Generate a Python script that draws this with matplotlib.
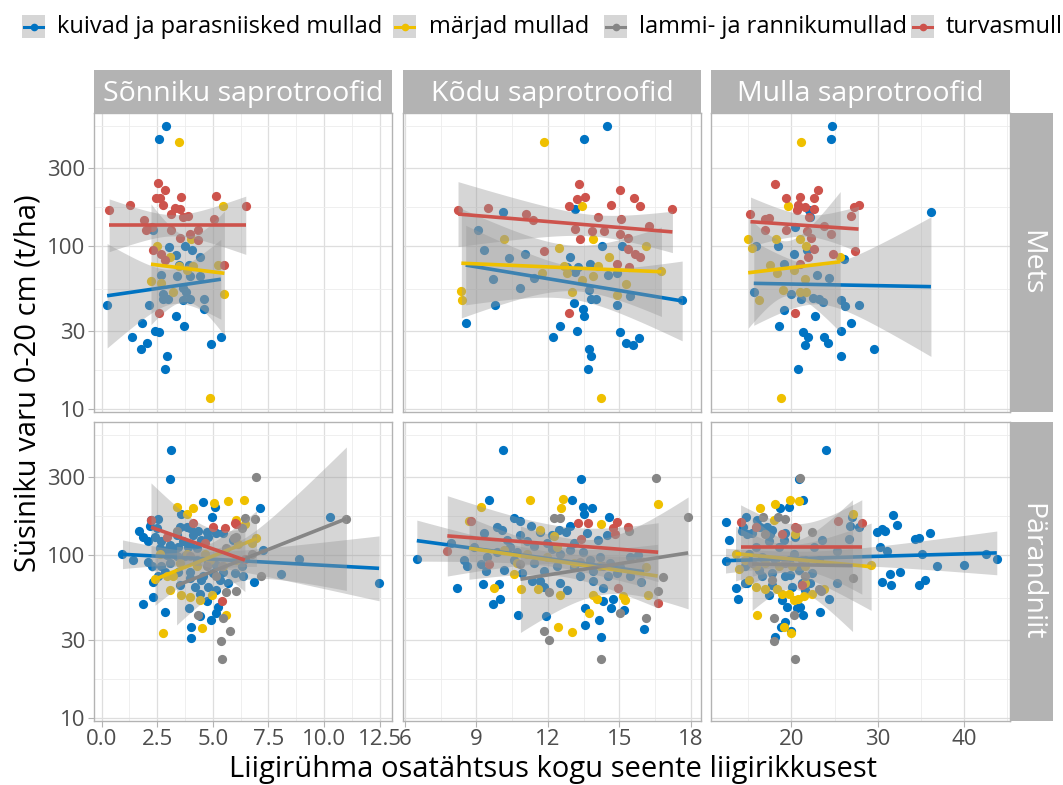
import numpy as np
import matplotlib.pyplot as plt
from matplotlib.lines import Line2D
from matplotlib.patches import Rectangle

plt.rcParams['font.family'] = ['Open Sans', 'DejaVu Sans']

W, H = 1063, 785

groups = ["kuivad ja parasniisked mullad", "märjad mullad", "lammi- ja rannikumullad", "turvasmullad"]
keys = ["kuiv", "marg", "lammi", "turv"]
colors = ["#0073C2", "#EFC000", "#868686", "#CD534C"]
columns = ["Sõnniku saprotroofid", "Kõdu saprotroofid", "Mulla saprotroofid"]
rows = ["Mets", "Pärandniit"]

# --- mets, sõnniku saprotroofid ---
mets_sonnik_kuiv = [(2.89, 545), (2.57, 451), (3.02, 99), (3.74, 100), (4.07, 94.5), (4.42, 85), (3.34, 88),
                    (2.32, 125), (0.25, 43.5), (2.14, 43.5), (2.77, 47), (2.99, 47.5), (3.67, 46.5), (3.97, 47),
                    (4.60, 47.5), (4.60, 41), (3.34, 37), (3.71, 32.5), (1.83, 33.5), (2.40, 30), (2.57, 29.5),
                    (1.35, 27.8), (2.02, 25.5), (1.77, 23.4), (2.92, 21.2), (2.83, 17.5), (4.90, 24.9),
                    (5.36, 27.5), (3.49, 76), (3.92, 76), (2.69, 66), (3.37, 65), (3.97, 65), (4.42, 65),
                    (2.77, 51), (3.79, 52.5), (3.64, 55)]
mets_sonnik_marg = [(3.49, 432), (5.46, 177), (4.04, 110), (2.47, 100), (3.07, 86), (3.49, 75), (5.24, 76),
                    (2.22, 61), (2.69, 59), (3.19, 52.5), (5.52, 51), (4.87, 11.6), (3.82, 71), (4.12, 75)]
mets_sonnik_turv = [(2.54, 242), (2.84, 220), (2.43, 197), (2.62, 197), (2.74, 178), (3.55, 201), (3.29, 170),
                    (3.52, 168), (3.13, 157), (3.67, 151), (3.89, 153), (5.13, 203), (6.48, 176), (0.34, 166),
                    (1.27, 178), (1.90, 144), (1.98, 126), (2.25, 131), (3.14, 125), (4.34, 125), (3.97, 119),
                    (3.52, 112), (4.34, 109), (2.29, 94.5), (2.66, 89), (2.84, 82), (5.49, 76), (2.57, 38.7),
                    (5.04, 146)]
mets_sonnik_fit = {"kuiv": (49.5, 62.5), "marg": (77.3, 68), "turv": (134, 134)}

# --- mets, kõdu saprotroofid ---
mets_kodu_kuiv = [(14.50, 545), (13.52, 451), (13.14, 168), (10.12, 162), (9.06, 125), (9.31, 94.5), (10.36, 84),
                  (11.06, 89), (12.91, 86), (14.26, 100), (15.12, 100), (9.68, 63), (10.85, 55), (11.43, 64),
                  (12.80, 74), (13.28, 74), (13.77, 78), (13.14, 69), (13.74, 54), (14.54, 66), (14.91, 68),
                  (15.44, 49.5), (9.80, 43.5), (8.55, 33.5), (13.08, 45), (13.49, 41), (13.52, 37),
                  (12.52, 32.5), (12.20, 27.8), (13.21, 30), (15.03, 29.7), (15.30, 25.5), (15.58, 24.8),
                  (15.83, 27.3), (13.73, 23.4), (13.81, 21.2), (13.67, 17.5), (17.64, 46.5), (14.89, 43.3),
                  (14.02, 47.5), (13.80, 47.5)]
mets_kodu_marg = [(11.85, 432), (13.42, 177), (10.15, 110), (12.45, 97.5), (13.88, 110), (16.14, 100.5),
                  (14.57, 86), (16.77, 70.5), (14.12, 75), (12.66, 75), (11.75, 68), (12.82, 68), (13.42, 62),
                  (13.91, 65), (15.28, 58.5), (13.00, 52.5), (8.37, 53), (8.38, 46.5), (14.89, 50), (14.22, 11.6)]
mets_kodu_turv = [(13.31, 240), (13.24, 194), (13.56, 201), (12.87, 177), (15.03, 220), (15.62, 196),
                  (15.86, 176), (14.64, 178), (17.23, 168), (8.23, 166), (9.50, 170), (11.08, 157), (11.38, 144),
                  (14.12, 150), (15.07, 147), (13.14, 127), (13.87, 124), (14.36, 124), (15.03, 118),
                  (15.37, 112), (16.24, 132), (13.33, 111), (11.82, 93.5), (15.37, 96), (15.65, 89),
                  (15.86, 85), (14.89, 77), (15.42, 74), (12.87, 38.7)]
mets_kodu_fit = {"kuiv": (76.4, 46), "marg": (78.4, 69.5), "turv": (157, 122)}

# --- mets, mulla saprotroofid ---
mets_mulla_kuiv = [(24.69, 545), (24.58, 451), (36.15, 161), (15.85, 100.5), (18.46, 100), (20.27, 89),
                   (21.81, 94.5), (26.04, 83), (20.46, 130), (19.12, 78), (22.96, 66), (24.38, 64), (25.73, 46.5),
                   (26.15, 43), (27.85, 43.5), (22.46, 48), (23.23, 47), (23.62, 45.5), (21.15, 47.5),
                   (20.0, 50.5), (15.65, 52.5), (19.15, 40.5), (18.62, 32.5), (22.77, 37), (21.31, 29.7),
                   (21.88, 27.5), (21.54, 24.8), (23.73, 27.8), (24.19, 25.5), (25.73, 30), (26.92, 33.5),
                   (25.77, 21.2), (29.62, 23.4), (20.77, 17.5), (22.08, 166), (22.19, 150)]
mets_mulla_marg = [(21.12, 432), (19.62, 177), (15.0, 110), (15.46, 97), (18.23, 110), (20.96, 110),
                   (21.69, 100.5), (25.65, 86), (17.58, 76), (18.35, 68), (19.0, 54), (21.54, 63), (21.04, 52),
                   (21.73, 52.5), (16.23, 46.5), (18.85, 11.6), (20.27, 71)]
mets_mulla_turv = [(18.08, 240), (19.42, 197), (21.04, 201), (22.58, 197), (23.08, 220), (20.77, 178),
                   (21.62, 174), (22.65, 169), (20.65, 166), (22.0, 150), (15.27, 157), (17.0, 146),
                   (17.46, 148), (17.0, 126), (19.42, 125), (21.81, 124), (23.73, 132), (24.58, 118),
                   (27.27, 173), (27.77, 178), (26.88, 153), (22.31, 112), (22.58, 96), (24.77, 89),
                   (27.38, 93), (21.92, 86), (21.04, 77), (20.38, 38.7)]
mets_mulla_fit = {"kuiv": (59, 56.3), "marg": (68.5, 80), "turv": (141, 127)}

# --- pärandniit, sõnniku saprotroofid ---
niit_sonnik_kuiv = [(3.10, 441), (3.07, 291), (0.94, 101), (1.39, 93), (12.47, 67), (10.25, 172), (8.86, 95),
                    (8.05, 76), (7.11, 194), (4.57, 211), (5.09, 196), (4.94, 172), (3.55, 178), (2.54, 167),
                    (2.22, 164), (3.82, 149), (3.97, 146), (4.72, 139), (5.12, 136), (4.34, 141), (1.68, 141),
                    (1.87, 129), (2.10, 121), (2.40, 129), (2.69, 121), (3.07, 115), (3.44, 112), (3.89, 112),
                    (4.27, 110), (2.62, 110), (2.92, 100), (3.37, 98), (2.10, 91), (2.25, 85), (2.84, 79),
                    (2.54, 74), (3.07, 89), (3.97, 79), (4.57, 74), (5.01, 77), (5.46, 79), (5.99, 77),
                    (6.36, 74), (6.86, 68), (5.69, 67), (5.16, 61), (4.72, 52), (4.19, 64), (4.42, 58),
                    (2.29, 55), (1.87, 50), (2.84, 45), (3.94, 47), (5.21, 48), (5.16, 44), (4.91, 40),
                    (4.04, 36), (4.01, 31), (7.26, 107), (5.91, 124), (5.46, 136), (6.29, 85), (3.52, 65),
                    (4.42, 42), (2.29, 68), (2.17, 150), (2.47, 146), (3.52, 149), (4.12, 132), (4.49, 124),
                    (4.79, 129), (3.37, 132), (3.67, 121), (3.97, 117), (2.92, 107), (3.22, 105), (3.74, 98),
                    (4.27, 93), (4.79, 91), (5.16, 87), (2.69, 85), (3.44, 79), (3.97, 72), (4.49, 70),
                    (4.79, 64), (5.31, 70)]
niit_sonnik_marg = [(3.37, 196), (4.09, 194), (5.04, 207), (5.69, 214), (6.41, 218), (3.82, 178), (6.06, 164),
                    (6.44, 156), (6.96, 127), (6.74, 119), (3.07, 61), (3.55, 57), (3.97, 55), (4.42, 53),
                    (4.94, 57), (5.61, 43), (4.52, 35.5), (2.77, 33), (2.40, 71), (2.92, 74), (5.46, 85),
                    (4.64, 102), (3.52, 89), (2.62, 102), (6.14, 116), (3.82, 102), (4.27, 85), (3.22, 74),
                    (4.87, 93), (6.06, 93)]
niit_sonnik_lammi = [(6.96, 300), (6.44, 168), (6.89, 167), (6.29, 146), (5.94, 127), (5.61, 110), (5.39, 85),
                     (7.16, 74), (6.06, 60), (5.61, 59), (4.34, 43), (5.46, 41), (5.76, 34), (5.36, 29.5),
                     (5.42, 23.1), (3.37, 141), (3.97, 98), (6.74, 102), (11.0, 167), (4.72, 85), (5.16, 74),
                     (6.06, 129)]
niit_sonnik_turv = [(2.22, 164), (4.12, 158), (5.01, 149), (5.54, 146), (5.99, 158), (4.64, 118), (5.39, 52),
                    (6.06, 154), (2.92, 129), (6.44, 95)]
niit_sonnik_fit = {"kuiv": (101, 82.8), "marg": (71, 126), "lammi": (64.9, 167), "turv": (148, 93)}

# --- pärandniit, kõdu saprotroofid ---
niit_kodu_kuiv = [(10.12, 441), (13.38, 291), (9.52, 219), (13.03, 216), (13.49, 198), (13.84, 194),
                  (13.53, 178), (14.58, 172), (10.57, 169), (10.85, 162), (9.87, 149), (10.08, 143),
                  (11.29, 151), (11.68, 139), (12.45, 143), (12.94, 151), (12.77, 139), (10.85, 133),
                  (9.31, 136), (10.29, 124), (11.13, 121), (11.96, 118), (13.08, 118), (14.12, 123), (7.92, 118),
                  (8.48, 93), (8.62, 85), (9.18, 88), (9.41, 80), (10.15, 81), (10.92, 77), (11.33, 69),
                  (11.68, 69), (11.85, 80), (12.49, 67), (13.35, 74), (13.91, 80), (14.54, 74), (15.44, 97),
                  (15.79, 100), (8.20, 63), (9.29, 66), (9.96, 66), (9.70, 50), (10.01, 54), (10.74, 43),
                  (11.92, 42), (13.56, 47), (14.30, 63), (14.33, 52), (14.75, 54), (14.64, 47), (15.19, 46),
                  (14.15, 40), (13.56, 37), (14.23, 31.5), (16.04, 35), (6.50, 94), (15.93, 68),
                  (10.43, 112), (10.71, 104), (11.40, 113), (12.17, 109), (12.52, 102), (12.94, 107),
                  (13.49, 104), (13.77, 93), (14.19, 97), (14.61, 89), (15.03, 84), (9.87, 104), (9.45, 97),
                  (10.57, 93), (11.40, 89), (12.38, 85), (13.08, 84), (13.91, 69), (14.89, 77), (15.44, 74),
                  (11.82, 64), (12.80, 61), (8.90, 112), (13.63, 136), (14.47, 133), (12.17, 133)]
niit_kodu_marg = [(9.18, 196), (11.24, 218), (12.62, 220), (12.56, 194), (14.22, 156), (11.68, 142),
                  (10.57, 76), (9.73, 63), (10.87, 62), (11.57, 62), (12.52, 57), (13.74, 44), (13.88, 57),
                  (14.08, 54), (15.16, 56), (15.26, 53), (16.21, 57), (12.41, 36), (13.01, 33.5), (16.61, 205),
                  (16.14, 84), (12.24, 130), (8.69, 162), (10.15, 107), (11.13, 102), (11.96, 97), (13.08, 89),
                  (14.19, 85), (10.71, 89), (12.38, 112)]
niit_kodu_lammi = [(12.27, 169), (12.49, 169), (15.42, 141), (16.56, 298), (17.89, 171), (16.84, 73),
                   (16.63, 60), (16.14, 41), (15.03, 44), (11.86, 34), (12.06, 30), (14.22, 23.1), (12.07, 59),
                   (10.85, 88), (13.35, 91), (14.33, 85)]
niit_kodu_turv = [(8.76, 162), (14.89, 160), (13.70, 158), (13.26, 158), (15.37, 149), (14.75, 146),
                  (14.82, 135), (7.78, 106), (9.52, 88), (14.96, 63), (16.63, 51), (13.40, 126)]
niit_kodu_fit = {"kuiv": (122.5, 79), "marg": (110, 74.3), "lammi": (71, 103), "turv": (131, 104)}

# --- pärandniit, mulla saprotroofid ---
niit_mulla_kuiv = [(24.04, 441), (20.85, 291), (21.31, 216), (19.69, 196), (18.73, 194), (14.77, 172),
                   (16.04, 164), (12.38, 159), (14.38, 148), (14.88, 134), (17.19, 149), (17.58, 134),
                   (20.46, 129), (12.77, 123), (15.85, 112), (18.54, 112), (19.12, 124), (20.27, 102),
                   (22.58, 112), (23.54, 123), (25.27, 106), (26.62, 125), (27.0, 171), (26.81, 151),
                   (27.77, 148), (29.88, 138), (30.46, 145), (30.85, 141), (31.81, 177), (32.19, 153),
                   (34.31, 125), (34.81, 128), (36.04, 137), (30.27, 112), (31.04, 106), (35.15, 102),
                   (36.81, 85), (40.0, 87), (42.5, 101), (43.77, 94), (31.42, 76), (32.58, 79), (30.46, 68),
                   (31.5, 65), (34.81, 65), (35.46, 70), (14.62, 67), (13.62, 63), (13.81, 54), (14.88, 67),
                   (16.62, 74), (17.77, 65), (19.88, 75), (21.23, 67), (22.19, 67), (25.27, 67), (24.38, 54),
                   (23.35, 45), (21.35, 43), (19.5, 48), (20.65, 47), (19.31, 39), (18.85, 36), (18.08, 31.5),
                   (20.0, 34), (21.04, 48), (12.38, 92), (14.31, 141), (15.46, 136), (16.42, 149), (17.77, 143),
                   (19.31, 136), (17.38, 121), (15.08, 102), (16.62, 97), (18.15, 93), (19.69, 93), (21.62, 93),
                   (23.15, 93), (14.69, 85), (16.23, 81), (17.77, 77), (19.31, 74), (20.85, 81), (22.38, 77),
                   (20.08, 64), (21.62, 61), (17.38, 57), (18.92, 53)]
niit_mulla_marg = [(16.35, 194), (18.08, 206), (19.88, 217), (20.92, 214), (27.12, 178), (17.96, 164),
                   (20.46, 134), (21.62, 67), (15.85, 85), (13.92, 82), (15.08, 70), (17.0, 62), (18.35, 62),
                   (18.92, 58), (20.27, 53), (20.77, 54), (21.42, 56), (23.73, 62), (16.04, 43), (20.0, 33),
                   (13.54, 102), (19.12, 36), (29.23, 87), (14.69, 93), (17.0, 89), (18.54, 85), (20.08, 85),
                   (21.62, 85), (15.85, 64), (19.69, 58), (22.38, 58)]
niit_mulla_lammi = [(21.04, 298), (16.69, 170), (18.46, 170), (19.23, 167), (22.38, 139), (17.0, 134),
                    (21.62, 74), (23.15, 62), (17.96, 41), (20.27, 43), (17.96, 29.5), (20.38, 23.1), (27.08, 72),
                    (23.46, 60), (15.46, 89), (19.31, 89), (21.23, 93), (17.77, 70)]
niit_mulla_turv = [(14.12, 160), (15.92, 148), (20.38, 148), (18.92, 134), (20.65, 146), (25.35, 161),
                   (28.15, 158), (21.23, 65)]
niit_mulla_fit = {"kuiv": (92.3, 103), "marg": (102, 84.7), "lammi": (88, 86), "turv": (112, 112)}

panels = [
    [({"kuiv": mets_sonnik_kuiv, "marg": mets_sonnik_marg, "turv": mets_sonnik_turv}, mets_sonnik_fit),
     ({"kuiv": mets_kodu_kuiv, "marg": mets_kodu_marg, "turv": mets_kodu_turv}, mets_kodu_fit),
     ({"kuiv": mets_mulla_kuiv, "marg": mets_mulla_marg, "turv": mets_mulla_turv}, mets_mulla_fit)],
    [({"kuiv": niit_sonnik_kuiv, "marg": niit_sonnik_marg, "lammi": niit_sonnik_lammi, "turv": niit_sonnik_turv},
      niit_sonnik_fit),
     ({"kuiv": niit_kodu_kuiv, "marg": niit_kodu_marg, "lammi": niit_kodu_lammi, "turv": niit_kodu_turv},
      niit_kodu_fit),
     ({"kuiv": niit_mulla_kuiv, "marg": niit_mulla_marg, "lammi": niit_mulla_lammi, "turv": niit_mulla_turv},
      niit_mulla_fit)],
]

x_limits = [(-0.34, 13.05), (5.92, 18.43), (10.7, 45.3)]
x_major = [[0, 2.5, 5, 7.5, 10, 12.5], [6, 9, 12, 15, 18], [20, 30, 40]]
x_labels = [["0.0", "2.5", "5.0", "7.5", "10.0", "12.5"], ["6", "9", "12", "15", "18"], ["20", "30", "40"]]
x_minor = [[1.25, 3.75, 6.25, 8.75, 11.25], [7.5, 10.5, 13.5, 16.5], [15, 25, 35, 45]]
y_major = [10, 30, 100, 300]
y_minor = [17.3, 54.8, 173, 548]
y_limits = (9.58, 654.6)

# panel placement in pixels
col_x = [(94, 392), (403, 701), (711, 1010)]
row_y = [(113, 412), (422, 721)]
STRIP = "#B3B3B3"


def px_rect(x0, y0, x1, y1):
    return [x0 / W, 1 - y1 / H, (x1 - x0) / W, (y1 - y0) / H]


def smooth_band(pts, y_start, y_end):
    # straight fit on log10 scale, with a 95% band from the residual spread
    xs = np.array([p[0] for p in pts])
    ly = np.log10([p[1] for p in pts])
    x0, x1 = xs.min(), xs.max()
    slope = (np.log10(y_end) - np.log10(y_start)) / (x1 - x0)
    resid = ly - (np.log10(y_start) + slope * (xs - x0))
    n = len(xs)
    s = np.sqrt(np.sum(resid ** 2) / (n - 2))
    xbar = xs.mean()
    sxx = np.sum((xs - xbar) ** 2)
    t = 1.96 + 2.4 / (n - 2)
    grid = np.linspace(x0, x1, 80)
    fit = np.log10(y_start) + slope * (grid - x0)
    se = s * np.sqrt(1 / n + (grid - xbar) ** 2 / sxx)
    return grid, 10 ** fit, 10 ** (fit - t * se), 10 ** (fit + t * se)


fig = plt.figure(figsize=(W / 100, H / 100), dpi=100)

for r in range(2):
    for c in range(3):
        ax = fig.add_axes(px_rect(col_x[c][0], row_y[r][0], col_x[c][1], row_y[r][1]))
        ax.set_yscale('log')
        ax.set_xlim(*x_limits[c])
        ax.set_ylim(*y_limits)
        ax.set_xticks(x_major[c])
        ax.set_xticklabels(x_labels[c])
        ax.set_xticks(x_minor[c], minor=True)
        ax.set_yticks(y_major)
        ax.set_yticklabels([str(v) for v in y_major])
        ax.set_yticks(y_minor, minor=True)
        ax.yaxis.set_minor_formatter(plt.NullFormatter())
        ax.grid(True, which='major', color='#DEDEDE', lw=0.9)
        ax.grid(True, which='minor', color='#EDEDED', lw=0.6)
        ax.set_axisbelow(True)
        for sp in ax.spines.values():
            sp.set_color(STRIP)
            sp.set_linewidth(1.0)
        ax.tick_params(which='minor', length=0)
        ax.tick_params(which='major', length=4.5, width=0.8, color=STRIP, pad=1.5,
                       labelsize=16, labelcolor='#4D4D4D')
        if c > 0:
            ax.tick_params(left=False, labelleft=False)
        if r == 0:
            ax.tick_params(bottom=False, labelbottom=False)

        data, fits = panels[r][c]
        for k, col in zip(keys, colors):
            if k in data:
                pts = data[k]
                ax.scatter([p[0] for p in pts], [p[1] for p in pts], s=44, color=col,
                           linewidths=0, zorder=2)
        for k, col in zip(keys, colors):
            if k in data:
                gx, gy, lo, hi = smooth_band(data[k], *fits[k])
                ax.fill_between(gx, lo, hi, color='#999999', alpha=0.4, lw=0, zorder=3)
                ax.plot(gx, gy, color=col, lw=2.6, solid_capstyle='butt', zorder=3)

        # facet strips
        if r == 0:
            sax = fig.add_axes(px_rect(col_x[c][0], 70, col_x[c][1], 113))
            sax.set_facecolor(STRIP)
            sax.set_xticks([])
            sax.set_yticks([])
            for sp in sax.spines.values():
                sp.set_visible(False)
            sax.text(0.5, 0.45, columns[c], color='white', fontsize=20.5, ha='center', va='center',
                     transform=sax.transAxes)
        if c == 2:
            sax = fig.add_axes(px_rect(1010, row_y[r][0], 1053, row_y[r][1]))
            sax.set_facecolor(STRIP)
            sax.set_xticks([])
            sax.set_yticks([])
            for sp in sax.spines.values():
                sp.set_visible(False)
            sax.text(0.5, 0.5, rows[r], color='white', fontsize=20.5, ha='center', va='center',
                     rotation=-90, transform=sax.transAxes)

# legend across the top
key_x = [22, 393, 604, 911]
text_x = [57, 429, 639, 946]
for lab, col, kx, tx in zip(groups, colors, key_x, text_x):
    fig.add_artist(Rectangle((kx / W, 1 - 38 / H), 23 / W, 23 / H, transform=fig.transFigure,
                             facecolor='#D6D6D6', edgecolor='none'))
    fig.add_artist(Line2D([(kx + 2) / W, (kx + 21) / W], [1 - 27 / H, 1 - 27 / H], color=col, lw=2.2,
                          transform=fig.transFigure))
    fig.add_artist(Line2D([(kx + 11.5) / W], [1 - 27 / H], color=col, marker='o', markersize=5.5,
                          markeredgewidth=0, transform=fig.transFigure))
    fig.text(tx / W, 1 - 27 / H, lab, fontsize=17, ha='left', va='center')

fig.text(553 / W, 1 - 770 / H, "Liigirühma osatähtsus kogu seente liigirikkusest", fontsize=21,
         ha='center', va='center')
fig.text(28 / W, 1 - 383 / H, "Süsiniku varu 0-20 cm (t/ha)", fontsize=21, ha='center', va='center',
         rotation=90)

fig.savefig("out.png", dpi=100)
